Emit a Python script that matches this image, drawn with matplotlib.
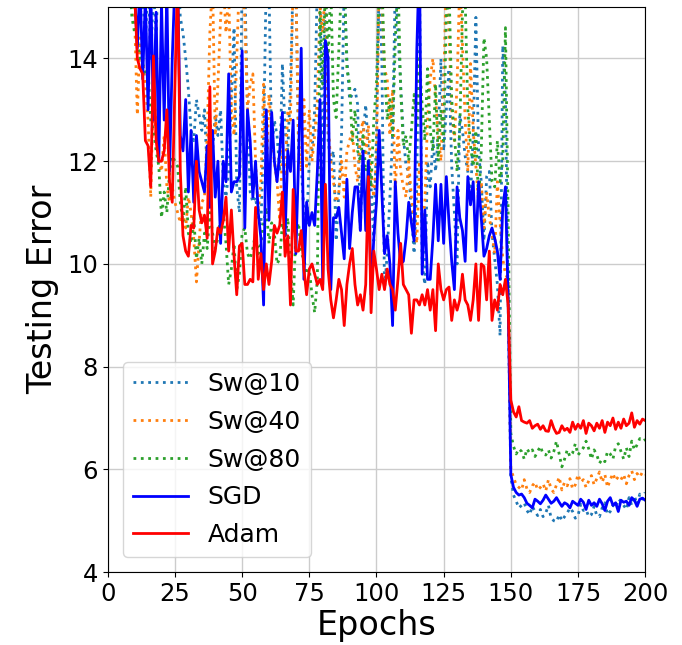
import numpy as np
import matplotlib
matplotlib.use("Agg")
import matplotlib.pyplot as plt

# epochs 1..200
epochs = np.arange(1, 201)

sw10 = [
    30.0, 25.0, 22.0, 20.0, 19.0, 18.0, 17.5, 17.0, 16.5, 16.0,
    15.5, 14.8, 15.2, 14.3, 15.6, 14.0, 15.3, 14.5, 15.8, 16.0,
    15.5, 16.0, 15.2, 16.0, 15.5, 15.8, 14.8, 14.5, 14.0, 13.4,
    12.6, 12.4, 13.2, 12.9, 12.6, 13.0, 11.8, 12.8, 12.2, 12.9,
    12.5, 13.0, 11.6, 11.3, 11.8, 13.2, 14.6, 11.5, 11.0, 15.6,
    15.5, 13.0, 11.4, 11.2, 11.3, 10.9, 10.75, 12.5, 15.6, 15.4,
    12.2, 12.8, 12.5, 11.8, 13.9, 12.6, 12.2, 13.5, 15.6, 15.5,
    12.2, 11.9, 11.0, 10.75, 12.0, 12.2, 13.0, 15.5, 15.4, 11.2,
    15.6, 12.4, 12.0, 12.2, 10.45, 11.4, 12.5, 15.5, 14.0, 13.2,
    13.3, 13.4, 13.1, 10.65, 12.5, 13.1, 12.2, 11.5, 10.45, 12.5,
    15.6, 14.0, 9.5, 10.2, 11.3, 12.5, 15.5, 14.5, 13.5, 12.5,
    11.9, 11.8, 11.0, 10.2, 11.5, 15.6, 10.0, 9.6, 12.0, 11.5,
    12.4, 11.8, 12.5, 14.0, 12.2, 13.0, 13.8, 11.9, 11.0, 10.0,
    12.9, 12.6, 12.1, 11.8, 11.3, 12.5, 14.8, 12.2, 11.6, 10.45,
    11.7, 11.8, 10.6, 10.1, 9.6, 8.6, 14.25, 13.2, 9.3, 5.85,
    5.5, 5.38, 5.25, 5.3, 5.35, 5.2, 5.12, 5.28, 5.18, 5.1,
    5.22, 5.08, 5.15, 5.3, 5.05, 5.0, 4.98, 5.12, 5.0, 5.08,
    5.15, 5.25, 5.18, 5.05, 5.1, 5.32, 5.2, 5.22, 5.08, 5.12,
    5.28, 5.1, 5.08, 5.25, 5.35, 5.12, 5.18, 5.3, 5.25, 5.42,
    5.38, 5.3, 5.22, 5.45, 5.3, 5.48, 5.32, 5.52, 5.42, 5.55,
]

sw40 = [
    30.0, 25.0, 22.0, 19.0, 17.0, 15.8, 15.5, 15.8, 16.5, 14.8,
    12.9, 14.4, 14.0, 13.5, 12.8, 11.3, 13.6, 12.5, 12.0, 11.8,
    12.5, 11.5, 11.2, 11.5, 11.2, 11.0, 10.8, 11.0, 10.7, 11.3,
    11.0, 10.5, 9.65, 10.4, 11.2, 11.3, 12.5, 14.5, 15.5, 12.5,
    13.5, 14.8, 15.5, 14.5, 15.3, 13.0, 12.5, 14.0, 15.6, 15.5,
    14.8, 13.0, 13.5, 13.7, 12.0, 11.0, 11.6, 13.5, 11.6, 13.3,
    12.6, 12.0, 11.6, 10.85, 12.2, 11.7, 13.0, 12.8, 15.6, 15.5,
    12.5, 11.8, 13.2, 11.9, 13.0, 12.0, 12.5, 13.2, 15.0, 14.5,
    15.5, 12.7, 12.0, 11.6, 11.2, 11.4, 12.0, 11.3, 12.2, 12.4,
    12.6, 11.9, 11.6, 12.5, 12.8, 12.1, 12.7, 11.8, 11.3, 12.0,
    15.6, 15.2, 13.8, 13.6, 12.5, 13.4, 11.4, 12.6, 11.8, 11.5,
    11.3, 12.0, 11.3, 10.8, 10.4, 12.0, 10.8, 11.2, 12.8, 13.6,
    14.0, 13.2, 12.5, 12.0, 13.5, 15.6, 14.5, 13.0, 12.4, 13.5,
    15.5, 14.3, 12.8, 11.8, 13.9, 12.6, 11.9, 11.2, 11.6, 10.7,
    11.4, 10.9, 10.6, 10.2, 11.6, 10.8, 10.1, 9.8, 9.7, 6.0,
    5.85, 5.7, 5.65, 5.6, 5.8, 5.62, 5.55, 5.68, 5.75, 5.6,
    5.65, 5.72, 5.58, 5.8, 5.62, 5.55, 5.7, 5.85, 5.6, 5.75,
    5.68, 5.82, 5.62, 5.7, 5.9, 5.75, 5.8, 5.65, 5.78, 5.88,
    5.7, 5.82, 5.95, 5.75, 5.9, 5.65, 5.8, 5.92, 5.78, 5.86,
    5.8, 5.9, 5.72, 5.88, 5.97, 5.8, 5.92, 5.85, 5.95, 5.9,
]

sw80 = [
    30.0, 24.0, 20.0, 17.0, 15.5, 15.2, 15.4, 15.6, 14.8, 14.5,
    14.4, 14.0, 13.9, 13.7, 13.8, 12.8, 12.6, 12.2, 11.9, 10.9,
    11.4, 11.0, 11.8, 12.1, 12.0, 11.9, 11.2, 10.8, 11.5, 10.6,
    10.4, 10.9, 10.1, 10.5, 10.0, 10.6, 10.3, 11.0, 10.6, 10.3,
    10.5, 10.9, 11.0, 10.4, 9.6, 9.9, 10.4, 9.5, 9.8, 10.6,
    10.7, 10.2, 10.1, 10.3, 10.6, 10.2, 10.4, 10.8, 11.1, 10.4,
    10.8, 10.6, 10.0, 10.1, 10.8, 10.5, 10.9, 9.9, 9.2, 10.6,
    10.8, 10.2, 10.1, 9.8, 9.9, 9.4, 9.05, 9.7, 14.9, 13.5,
    15.5, 14.0, 15.4, 13.2, 12.85, 14.2, 15.5, 15.6, 13.8, 13.5,
    12.4, 13.0, 12.2, 12.0, 12.5, 11.8, 12.0, 11.5, 12.8, 13.5,
    15.4, 15.6, 13.8, 12.8, 13.2, 12.5, 14.3, 15.6, 13.4, 12.3,
    12.5, 12.0, 12.6, 13.3, 12.7, 14.0, 13.1, 12.4, 13.8, 12.6,
    12.2, 13.5, 12.0, 13.0, 12.4, 14.8, 15.4, 13.2, 12.5, 11.8,
    12.6, 14.9, 15.2, 13.0, 12.3, 11.9, 12.6, 11.2, 12.2, 14.4,
    14.0, 12.8, 11.6, 11.5, 12.4, 11.6, 12.0, 14.6, 11.0, 6.7,
    6.45, 6.3, 6.4, 6.35, 6.2, 6.4, 6.32, 6.38, 6.25, 6.35,
    6.45, 6.3, 6.28, 6.38, 6.22, 6.35, 6.55, 6.3, 6.05, 6.2,
    6.38, 6.25, 6.32, 6.5, 6.28, 6.35, 6.42, 6.55, 6.4, 6.2,
    6.38, 6.28, 6.12, 6.2, 6.15, 6.35, 6.3, 6.2, 6.45, 6.5,
    6.35, 6.2, 6.42, 6.25, 6.55, 6.38, 6.48, 6.6, 6.55, 6.58,
]

sgd = [
    30.0, 22.0, 19.5, 18.0, 17.2, 16.8, 16.3, 15.9, 15.6, 15.3,
    14.2, 15.5, 13.6, 15.2, 13.0, 15.4, 12.8, 14.9, 12.0, 15.1,
    12.8, 15.3, 11.8, 14.0, 15.5, 15.6, 12.5, 12.2, 13.2, 11.4,
    12.6, 11.2, 12.5, 11.8, 11.6, 11.4, 12.3, 11.1, 12.6, 11.3,
    12.0, 10.4, 12.0, 11.6, 13.7, 11.4, 11.6, 11.6, 11.7, 14.15,
    10.7, 13.0, 12.4, 11.3, 12.0, 11.0, 10.5, 9.2, 13.0, 10.85,
    12.95, 12.0, 11.6, 12.2, 12.95, 10.55, 12.2, 11.8, 12.8, 10.2,
    12.0, 14.2, 9.7, 11.2, 10.75, 11.0, 10.75, 11.8, 13.2, 9.6,
    14.35, 14.0, 9.5, 10.9, 10.9, 11.1, 10.6, 10.1, 11.65, 10.3,
    11.0, 11.5, 11.5, 10.65, 12.2, 10.65, 12.0, 9.4, 10.5, 11.2,
    12.6, 11.4, 10.2, 10.55, 10.0, 8.8, 11.6, 10.6, 10.0, 10.05,
    10.5, 11.2, 10.8, 10.45, 14.15, 16.0, 9.8, 11.05, 9.7, 9.7,
    10.5, 11.55, 10.45, 11.55, 10.4, 11.7, 10.8, 10.05, 9.5, 11.5,
    10.9, 10.65, 10.05, 11.7, 11.15, 11.6, 10.25, 11.6, 10.9, 10.15,
    10.3, 10.55, 10.7, 10.5, 10.25, 9.7, 11.1, 11.5, 9.3, 5.9,
    5.65, 5.55, 5.5, 5.52, 5.45, 5.34, 5.3, 5.25, 5.42, 5.38,
    5.33, 5.4, 5.5, 5.42, 5.34, 5.38, 5.45, 5.36, 5.28, 5.35,
    5.32, 5.25, 5.38, 5.34, 5.3, 5.42, 5.36, 5.22, 5.4, 5.3,
    5.35, 5.28, 5.42, 5.33, 5.2, 5.38, 5.45, 5.3, 5.35, 5.18,
    5.4, 5.36, 5.38, 5.3, 5.45, 5.4, 5.28, 5.42, 5.44, 5.4,
]

adam = [
    30.0, 24.0, 21.0, 19.0, 18.0, 17.0, 16.5, 16.0, 15.6, 15.3,
    14.0, 13.8, 13.7, 12.4, 12.3, 11.5, 14.05, 12.4, 12.0, 12.0,
    12.2, 13.0, 11.6, 11.2, 13.5, 15.6, 11.8, 10.55, 10.25, 10.15,
    10.75, 10.7, 12.0, 11.05, 10.8, 10.95, 10.5, 13.45, 10.0, 10.25,
    10.7, 10.6, 10.85, 11.3, 10.25, 11.05, 10.15, 9.4, 10.35, 10.4,
    9.6, 9.6, 9.7, 9.65, 11.1, 9.7, 10.2, 9.5, 10.0, 9.6,
    10.05, 10.75, 10.6, 10.75, 11.4, 10.15, 10.55, 9.2, 11.45, 10.25,
    10.25, 10.65, 9.9, 9.4, 9.9, 10.0, 9.8, 9.6, 9.7, 9.5,
    11.55, 9.9, 9.3, 8.95, 9.3, 9.7, 9.5, 8.8, 9.6, 10.0,
    10.3, 9.6, 9.2, 9.4, 9.1, 9.6, 11.7, 9.05, 10.25, 9.9,
    9.5, 9.8, 9.5, 9.9, 9.6, 9.5, 9.1, 9.7, 10.4, 9.6,
    9.5, 9.4, 8.65, 9.3, 9.3, 9.2, 9.4, 9.2, 9.5, 9.1,
    9.5, 8.7, 10.0, 9.5, 9.3, 9.5, 9.55, 8.9, 9.3, 9.1,
    9.3, 9.8, 9.3, 9.2, 8.9, 9.3, 10.0, 8.9, 10.0, 9.95,
    9.3, 10.25, 8.9, 9.3, 9.1, 9.6, 9.4, 9.7, 9.2, 7.35,
    7.12, 7.02, 7.22, 6.95, 6.92, 6.9, 6.95, 6.8, 6.85, 6.88,
    6.78, 6.85, 6.75, 6.74, 6.95, 6.8, 6.7, 6.72, 6.85, 6.76,
    6.8, 6.72, 6.92, 6.78, 6.88, 6.8, 6.95, 6.7, 6.9, 6.85,
    6.75, 6.9, 6.8, 6.95, 6.72, 6.92, 6.85, 7.0, 6.78, 6.92,
    6.8, 6.98, 6.85, 6.9, 7.1, 6.82, 6.95, 6.88, 6.98, 6.95,
]


def main():
    fig = plt.figure(figsize=(6.82, 6.45), dpi=100)
    ax = fig.add_axes([0.158, 0.113, 0.788, 0.876])

    ax.plot(epochs, sw10, linestyle=":", color="tab:blue", lw=2, label="Sw@10")
    ax.plot(epochs, sw40, linestyle=":", color="tab:orange", lw=2, label="Sw@40")
    ax.plot(epochs, sw80, linestyle=":", color="tab:green", lw=2, label="Sw@80")
    ax.plot(epochs, sgd, color="blue", lw=2, label="SGD")
    ax.plot(epochs, adam, color="red", lw=2, label="Adam")

    ax.set_xlim(0, 200)
    ax.set_ylim(4, 15)
    ax.set_xticks(range(0, 201, 25))
    ax.set_yticks(range(4, 15, 2))
    ax.tick_params(labelsize=17.5)
    ax.set_xlabel("Epochs", fontsize=24, labelpad=2)
    ax.set_ylabel("Testing Error", fontsize=24, labelpad=6)
    ax.grid(True, color="#cccccc", lw=1)
    ax.legend(loc="lower left", fontsize=18, handlelength=2.2,
              labelspacing=0.55, borderaxespad=0.6)

    fig.savefig("out.png", dpi=100)
    plt.close(fig)


if __name__ == "__main__":
    main()
